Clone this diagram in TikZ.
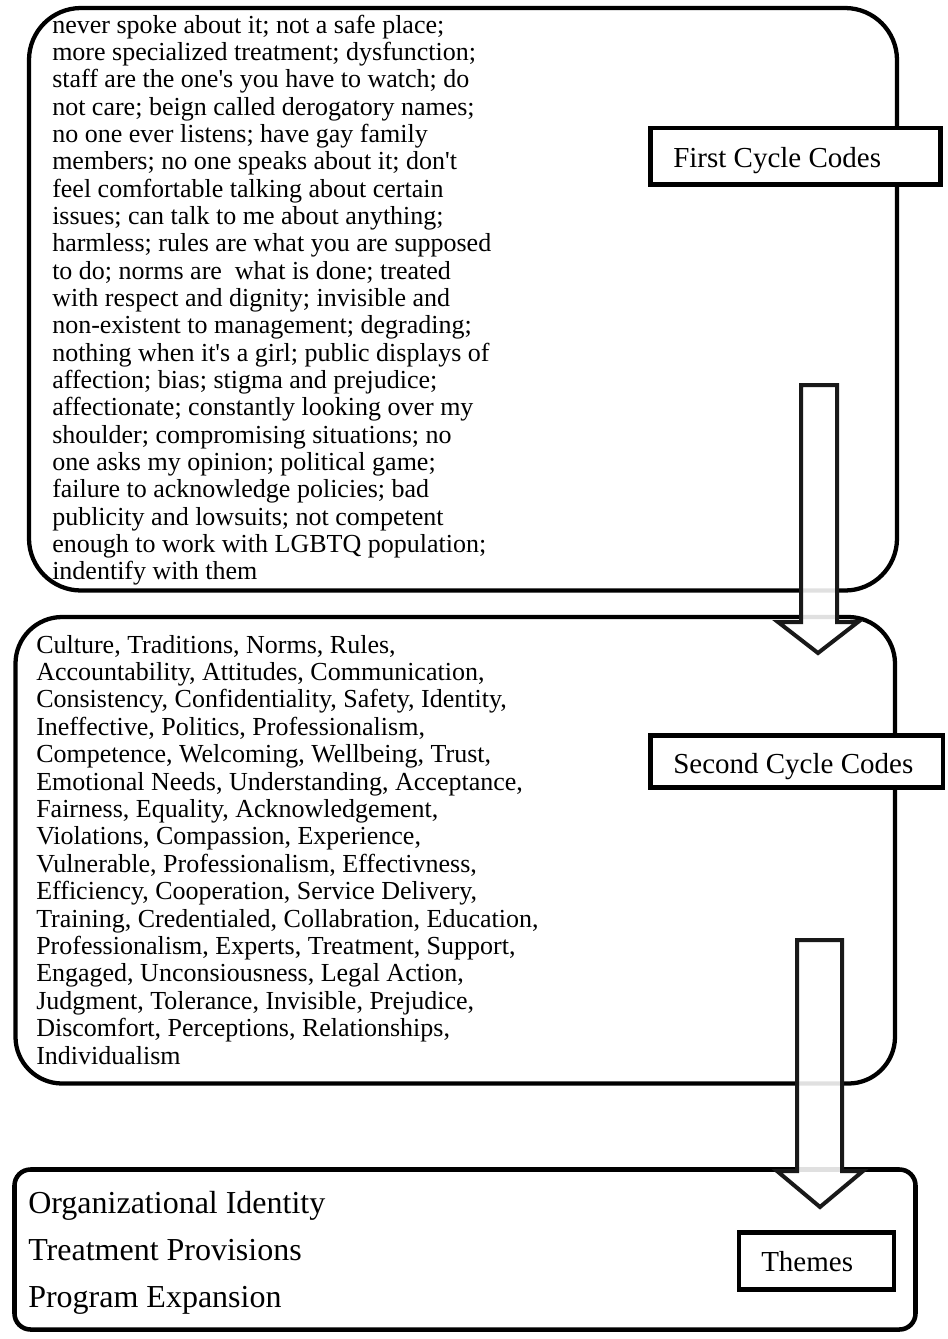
\documentclass[tikz,border=0pt]{standalone}
\usepackage{fontspec}
\setmainfont{Liberation Serif}[Ligatures=TeXOff]
\newcommand{\textblock}[2]{\vtop{\baselineskip=#1\lineskiplimit=-100pt\lineskip=0pt\halign{##\hfil\cr#2\crcr}}}
\begin{document}
\begin{tikzpicture}[x=0.75pt,y=-0.75pt,
  bigbox/.style={draw=black, line width=3.2pt},
  lblbox/.style={draw=black, line width=3.7pt, fill=white},
  blockarrow/.style={draw=black!90, line width=3pt, fill=white, fill opacity=0.88, line join=miter},
  body/.style={inner sep=0pt, anchor=base west, font=\fontsize{19.5pt}{20.5pt}\selectfont},
  themetext/.style={inner sep=0pt, anchor=base west, font=\fontsize{24pt}{35.25pt}\selectfont},
  lbltext/.style={inner sep=0pt, anchor=base west, font=\fontsize{21.75pt}{24pt}\selectfont}]
\useasboundingbox (0,0) rectangle (948,1339);

% big boxes
\draw[bigbox, rounded corners=39pt] (29,8) rectangle (897,590.5);
\draw[bigbox, rounded corners=35pt] (15.5,617) rectangle (895,1083.5);
\draw[bigbox, line width=3.4pt, rounded corners=12pt] (14.5,1169.5) rectangle (915.5,1329.5);

% texts
\node[body] (first) at (52,33) {\textblock{20.5pt}{%
never spoke about it; not a safe place;\cr
more specialized treatment; dysfunction;\cr
staff are the one's you have to watch; do\cr
not care; beign called derogatory names;\cr
no one ever listens; have gay family\cr
members; no one speaks about it; don't\cr
feel comfortable talking about certain\cr
issues; can talk to me about anything;\cr
harmless; rules are what you are supposed\cr
to do; norms are\ \ what is done; treated\cr
with respect and dignity; invisible and\cr
non-existent to management; degrading;\cr
nothing when it's a girl; public displays of\cr
affection; bias; stigma and prejudice;\cr
affectionate; constantly looking over my\cr
shoulder; compromising situations; no\cr
one asks my opinion; political game;\cr
failure to acknowledge policies; bad\cr
publicity and lowsuits; not competent\cr
enough to work with LGBTQ population;\cr
indentify with them}};

\node[body] (second) at (36,653) {\textblock{20.55pt}{%
Culture, Traditions, Norms, Rules,\cr
Accountability, Attitudes, Communication,\cr
Consistency, Confidentiality, Safety, Identity,\cr
Ineffective, Politics, Professionalism,\cr
Competence, Welcoming, Wellbeing, Trust,\cr
Emotional Needs, Understanding, Acceptance,\cr
Fairness, Equality, Acknowledgement,\cr
Violations, Compassion, Experience,\cr
Vulnerable, Professionalism, Effectivness,\cr
Efficiency, Cooperation, Service Delivery,\cr
Training, Credentialed, Collabration, Education,\cr
Professionalism, Experts, Treatment, Support,\cr
Engaged, Unconsiousness, Legal Action,\cr
Judgment, Tolerance, Invisible, Prejudice,\cr
Discomfort, Perceptions, Relationships,\cr
Individualism}};

\node[themetext] (themes) at (28,1213) {\textblock{35.25pt}{%
Organizational Identity\cr
Treatment Provisions\cr
Program Expansion}};

% block arrows
\coordinate (a1) at (819,385);
\coordinate (a2) at (819.5,940);
\draw[blockarrow] (801,385) -- (837,385) -- (837,622) -- (858,622) -- (818,653) -- (778,622) -- (801,622) -- cycle;
\draw[blockarrow] (797,940) -- (842,940) -- (842,1171) -- (863,1171) -- (820,1207) -- (777,1171) -- (797,1171) -- cycle;

% labels
\draw[lblbox] (650.5,128) rectangle (940.5,184.5);
\node[lbltext] (l1) at (673,167) {First Cycle Codes};
\draw[lblbox] (650.5,735.5) rectangle (943,787.5);
\node[lbltext] (l2) at (673,773) {Second Cycle Codes};
\draw[lblbox] (739,1232.5) rectangle (894,1289.5);
\node[lbltext] (l3) at (761,1271) {Themes};
\end{tikzpicture}
\end{document}
